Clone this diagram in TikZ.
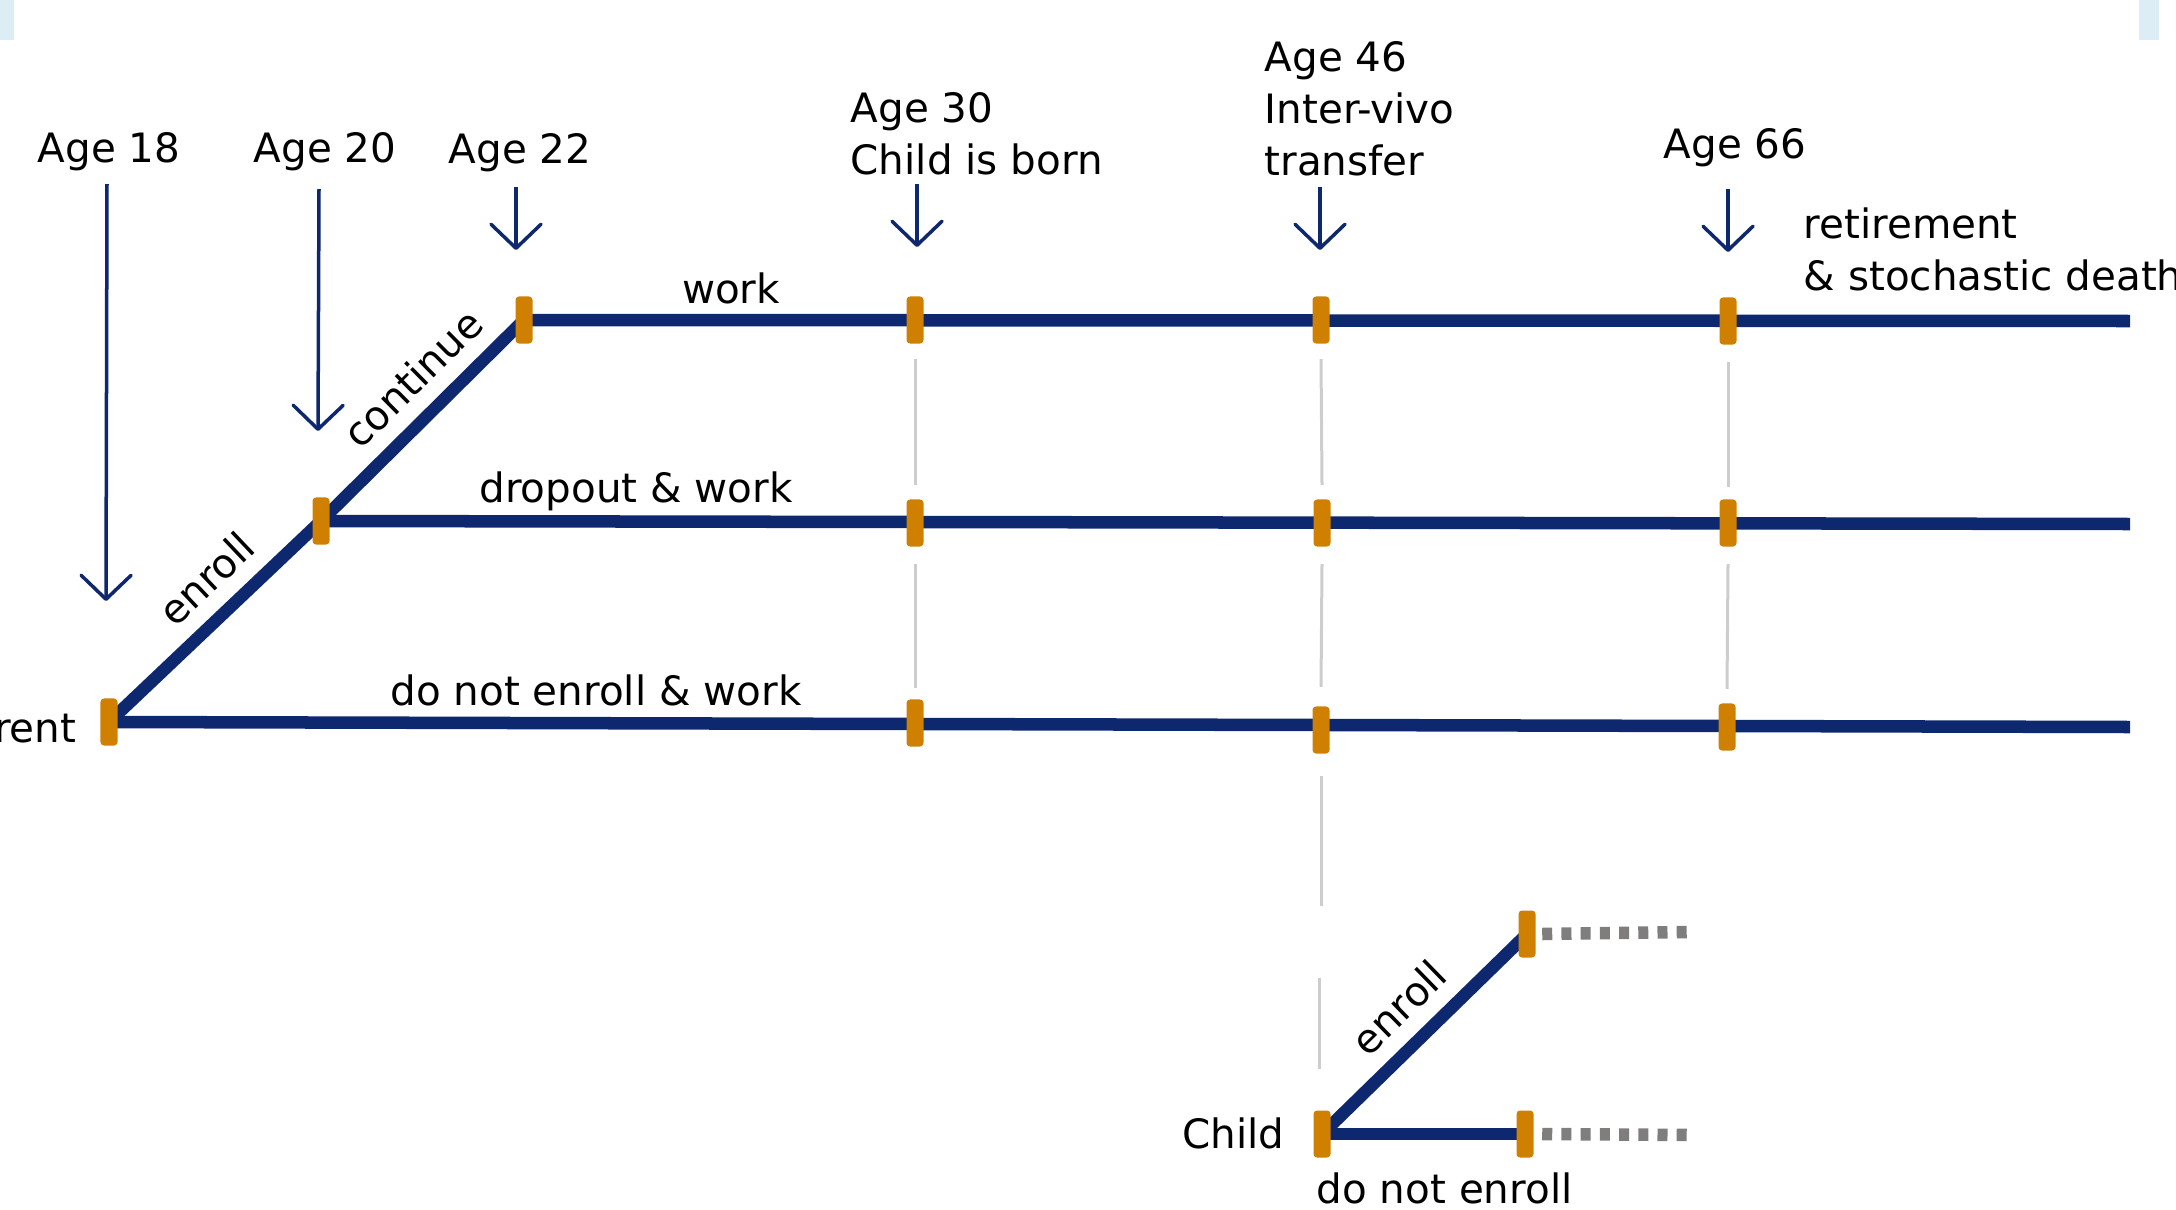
\documentclass[tikz,border=0pt]{standalone}
\usepackage{fontspec}
\setmainfont{DejaVu Sans}
\usetikzlibrary{arrows.meta,backgrounds}
\definecolor{navy}{RGB}{14,40,112}
\definecolor{mkorange}{RGB}{208,128,0}
\definecolor{lgray}{RGB}{205,205,205}
\definecolor{dgray}{RGB}{128,125,125}
\definecolor{lblue}{RGB}{221,237,245}
\begin{document}
\begin{tikzpicture}[x=0.01cm,y=-0.01cm,
  mk/.style={fill=mkorange,minimum width=0.17cm,minimum height=0.47cm,inner sep=0pt,rounded corners=1pt},
  lane/.style={draw=navy,line width=0.125cm},
  agearrow/.style={draw=navy,line width=0.035cm,-{Straight Barb[length=0.24cm,width=0.5cm,round]}},
  guide/.style={draw=lgray,line width=0.03cm},
  ctail/.style={draw=dgray,line width=0.125cm,dash pattern=on 0.10cm off 0.092cm},
  lbl/.style={font=\fontsize{11.5}{14.8}\selectfont,inner sep=0pt,text=black},
  slbl/.style={lbl,sloped,above,inner sep=0.15cm},
]
\useasboundingbox (0,0) rectangle (2176,1209);
\fill[lblue] (0,0) rectangle (14,40);
\fill[lblue] (2139,0) rectangle (2159,40);

% markers
\node[mk] (p0) at (109,722) {};
\node[mk] (e0) at (321,521) {};
\node[mk] (c0) at (524,320) {};
\node[mk] (t30) at (915,320) {};
\node[mk] (t46) at (1321,320) {};
\node[mk] (t66) at (1728,321) {};
\node[mk] (m30) at (915,523) {};
\node[mk] (m46) at (1322,523) {};
\node[mk] (m66) at (1728,523) {};
\node[mk] (b30) at (915,723) {};
\node[mk] (b46) at (1321,730) {};
\node[mk] (b66) at (1727,727) {};
\node[mk] (cc) at (1322,1134) {};
\node[mk] (ce) at (1527,934) {};
\node[mk] (cn) at (1525,1134) {};

\coordinate (topend) at (2130,321);
\coordinate (midend) at (2130,524);
\coordinate (botend) at (2130,727);
\coordinate (ceend) at (1690,932);
\coordinate (cnend) at (1690,1135);

\begin{scope}[on background layer]
\draw[lane] (c0.center) -- (topend);
\draw[lane] (e0.center) -- (midend);
\draw[lane] (p0.center) -- (botend);
\draw[lane] (p0.center) -- node[slbl,pos=0.58]{enroll} (e0.center);
\draw[lane] (e0.center) -- node[slbl,pos=0.58]{continue} (c0.center);
\draw[lane] (cc.center) -- node[slbl,pos=0.5]{enroll} (ce.center);
\draw[lane] (cc.center) -- (cn.center);
\end{scope}
\draw[ctail] ([xshift=0.06cm]ce.east) -- (ceend);
\draw[ctail] ([xshift=0.08cm]cn.east) -- (cnend);

% lane labels
\node[lbl,anchor=base] (lwork) at (731,303) {work};
\node[lbl,anchor=base] (ldrop) at (636,502) {dropout \& work};
\node[lbl,anchor=base] (lnot) at (596,705) {do not enroll \& work};
\node[lbl,anchor=base east] (lpar) at (77,742) {Parent};
\node[lbl,anchor=base east] (lchild) at (1285,1148) {Child};
\node[lbl,anchor=base west] (lcne) at (1316,1203) {do not enroll};

% age labels
\node[lbl,anchor=base] (l18) at (109,162) {Age 18};
\node[lbl,anchor=base] (l20) at (325,162) {Age 20};
\node[lbl,anchor=base] (l22) at (520,163) {Age 22};
\node[lbl,anchor=north west,align=left] (l30) at (850,92) {Age 30\\Child is born};
\node[lbl,anchor=north west,align=left] (l46) at (1264,41) {Age 46\\Inter-vivo\\transfer};
\node[lbl,anchor=base] (l66) at (1735,158) {Age 66};
\node[lbl,anchor=north west,align=left] (lret) at (1803,207) {retirement\\\& stochastic death};

% age arrows
\coordinate (a18s) at (107,184); \coordinate (a18e) at (106,601);
\coordinate (a20s) at (319,189); \coordinate (a20e) at (318,431);
\coordinate (a22s) at (516,187); \coordinate (a22e) at (516,250);
\coordinate (a30s) at (917,184); \coordinate (a30e) at (917,247);
\coordinate (a46s) at (1320,187); \coordinate (a46e) at (1320,250);
\coordinate (a66s) at (1728,189); \coordinate (a66e) at (1728,252);
\draw[agearrow] (a18s) -- (a18e);
\draw[agearrow] (a20s) -- (a20e);
\draw[agearrow] (a22s) -- (a22e);
\draw[agearrow] (a30s) -- (a30e);
\draw[agearrow] (a46s) -- (a46e);
\draw[agearrow] (a66s) -- (a66e);

% grey guides
\draw[guide] ([yshift=-0.15cm]t30.south) -- ([yshift=0.14cm]m30.north);
\draw[guide] ([yshift=-0.17cm]m30.south) -- ([yshift=0.11cm]b30.north);
\draw[guide] ([yshift=-0.15cm]t46.south) -- ([yshift=0.14cm]m46.north);
\draw[guide] ([yshift=-0.17cm]m46.south) -- ([yshift=0.19cm]b46.north);
\draw[guide] ([yshift=-0.17cm]t66.south) -- ([yshift=0.12cm]m66.north);
\draw[guide] ([yshift=-0.17cm]m66.south) -- ([yshift=0.14cm]b66.north);
\coordinate (g1) at (1321,906);
\coordinate (g2) at (1319,978);
\coordinate (g3) at (1319,1069);
\draw[guide] ([yshift=-0.22cm]b46.south) -- (g1);
\draw[guide] (g2) -- (g3);
\end{tikzpicture}
\end{document}
